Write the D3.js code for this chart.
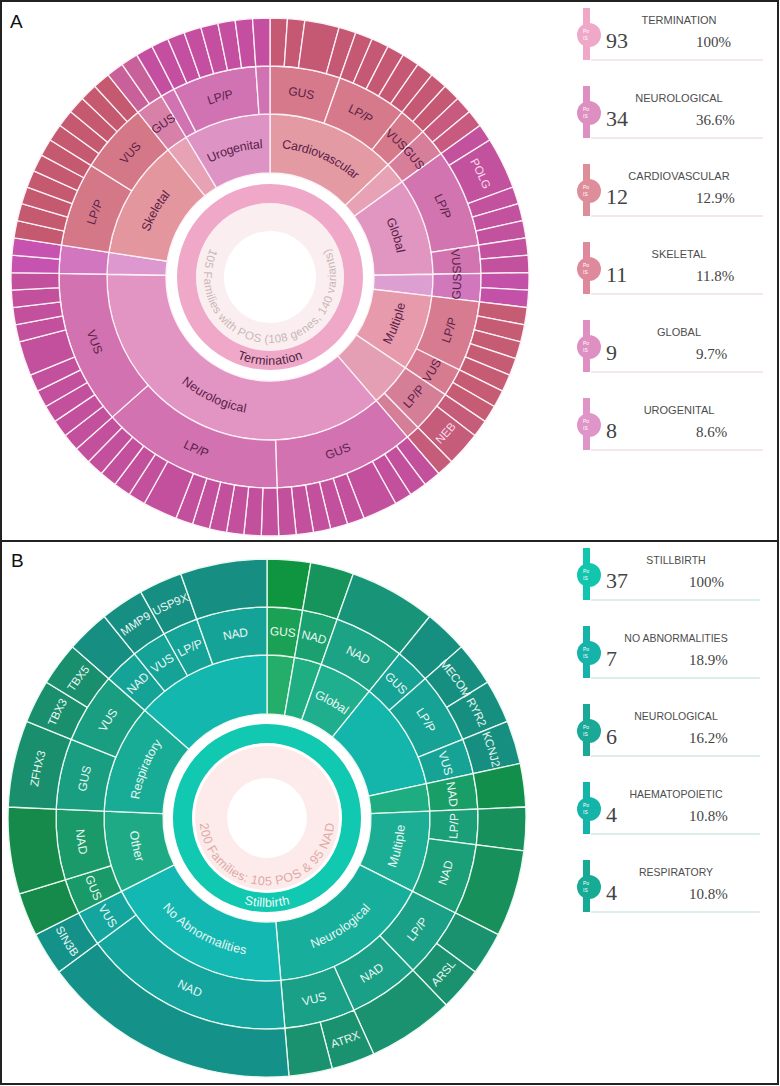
<!DOCTYPE html>
<html>
<head>
<meta charset="utf-8">
<script src="https://cdn.jsdelivr.net/npm/d3@7"></script>
<style>
  body { margin: 0; background: #fff; }
  svg { display: block; }
</style>
</head>
<body>
<div id="chart"></div>
<script>
// Panel A: terminations (level 2 = system, level 3 = class, level 4 = variants)
const termCategories = ["Cardiovascular", "", "Global", "", "Multiple", "", "Neurological", "", "Skeletal", "", "Urogenital"]
const termClasses = [
    [["GUS", [1, 1, 2, 1]], ["LP/P", [1, 1, 1, 1, 1]], ["VUS", [1, 1]]],
    [["GUS", [1, 1]]],
    [["LP/P", [1, 3, 1, 1, 1]], ["VUS", [1, 1]]],
    [["GUS", [1, 1]]],
    [["LP/P", [1, 1, 1, 1, 1]], ["VUS", [1, 1]]],
    [["LP/P", [1, 2]], ["", [1]]],
    [["GUS", [1, 1, 1, 2, 1, 1, 1, 1, 1]], ["LP/P", [1, 1, 1, 1, 1, 1, 2, 1, 1, 1, 1, 1]], ["VUS", [1, 1, 1, 1, 1, 2, 1, 1, 1, 1]]],
    [["", [1, 1]]],
    [["LP/P", [1, 1, 1, 1, 1, 1]], ["VUS", [1, 1, 1, 1, 1]]],
    [["GUS", [1, 1]]],
    [["", [1]], ["LP/P", [1, 1, 1, 1, 1, 1]], ["", [1]]]
]
// [category, class, leaf, gene]
const termGenes = [[2, 0, 1, "POLG"], [5, 0, 1, "NEB"]]
const termRoot = "Termination"
const termCentre = "105 Families with POS (108 genes, 140 variants)"

const termLegendNames = ["TERMINATION", "NEUROLOGICAL", "CARDIOVASCULAR", "SKELETAL", "GLOBAL", "UROGENITAL"]
const termLegendCounts = [93, 34, 12, 11, 9, 8]
const termLegendPct = ["100%", "36.6%", "12.9%", "11.8%", "9.7%", "8.6%"]

// Panel B: stillbirths
const stillCategories = ["", "", "Global", "", "", "Multiple", "Neurological", "No Abnormalities", "Other", "Respiratory", ""]
const stillClasses = [
    [["GUS", [1]]],
    [["NAD", [1]]],
    [["NAD", [2]]],
    [["GUS", [1]], ["LP/P", [1, 1]], ["VUS", [1]]],
    [["NAD", [1]]],
    [["LP/P", [1]], ["NAD", [2]]],
    [["LP/P", [1, 1]], ["NAD", [2]], ["VUS", [1, 1]]],
    [["NAD", [6]], ["VUS", [1]]],
    [["GUS", [1]], ["NAD", [2]]],
    [["GUS", [2]], ["VUS", [1, 1]]],
    [["NAD", [1]], ["VUS", [1]], ["LP/P", [1]], ["NAD", [2]]]
]
const stillGenes = [
    [3, 1, 0, "MECOM"], [3, 1, 1, "RYR2"], [3, 2, 0, "KCNJ2"], [6, 0, 1, "ARSL"], [6, 2, 0, "ATRX"],
    [7, 1, 0, "SIN3B"], [9, 0, 0, "ZFHX3"], [9, 1, 0, "TBX3"], [9, 1, 1, "TBX5"], [10, 1, 0, "MMP9"], [10, 2, 0, "USP9X"]
]
const stillRoot = "Stillbirth"
const stillCentre = "200 Families: 105 POS & 95 NAD"

const stillLegendNames = ["STILLBIRTH", "NO ABNORMALITIES", "NEUROLOGICAL", "HAEMATOPOIETIC", "RESPIRATORY"]
const stillLegendCounts = [37, 7, 6, 4, 4]
const stillLegendPct = ["100%", "18.9%", "16.2%", "10.8%", "10.8%"]

// Colours: [level 2, level 4] per category, level 3 sits between
const termPalette = [
    ["#e49aa3", "#c55873"], ["#e7a2b6", "#c75a7e"], ["#e195c1", "#c3529e"], ["#dd9ed2", "#c451a8"],
    ["#e69aab", "#c65b74"], ["#e59fb4", "#c55c7a"], ["#e294c3", "#c2509c"], ["#de98d0", "#c653b0"],
    ["#e4969f", "#c45970"], ["#e8a2b5", "#c8609a"], ["#dd94c5", "#c44fa0"]
]
const stillPalette = [
    ["#25ad6a", "#0f9440"], ["#1eae82", "#17945c"], ["#1faf8f", "#189478"], ["#14b6ab", "#178f80"],
    ["#1dad80", "#138f4c"], ["#1cae95", "#18905c"], ["#18ae9c", "#1a9270"], ["#13b8b3", "#14928a"],
    ["#1faa86", "#158a4a"], ["#18ac96", "#198f6e"], ["#13b7ae", "#168e82"]
]

const width = 780
const height = 1086
const sans = "'Liberation Sans', Arial, sans-serif"
const serif = "'Liberation Serif', 'Times New Roman', serif"

// Ring radii per depth
const radii = [null, [104, 163], [163, 211], [211, 259]]

const svg = d3.select("#chart").append("svg")
    .attr("width", width)
    .attr("height", height)

// Frame
svg.append("rect")
    .attr("x", 1).attr("y", 1)
    .attr("width", width - 3).attr("height", height - 3)
    .attr("fill", "none").attr("stroke", "#222").attr("stroke-width", 2)
svg.append("line")
    .attr("x1", 1).attr("x2", width - 2)
    .attr("y1", 541).attr("y2", 541)
    .attr("stroke", "#222").attr("stroke-width", 2)

svg.append("text").attr("x", 10).attr("y", 28).text("A")
    .style("font-family", sans).style("font-size", "19px").attr("fill", "#111")
svg.append("text").attr("x", 11).attr("y", 567).text("B")
    .style("font-family", sans).style("font-size", "19px").attr("fill", "#111")

let pathId = 0

// Arc used as a text path, centred on an angle, flipped on the lower half
function textArc(mid, r, span) {
    const flip = mid > Math.PI / 2 && mid < 3 * Math.PI / 2
    const a0 = flip ? mid + span : mid - span
    const a1 = flip ? mid - span : mid + span
    const large = 2 * span > Math.PI ? 1 : 0
    return `M${r * Math.sin(a0)},${-r * Math.cos(a0)}A${r},${r} 0 ${large} ${flip ? 0 : 1} ${r * Math.sin(a1)},${-r * Math.cos(a1)}`
}

function curvedText(g, mid, r, span, label, size, colour) {
    const id = "tp" + (pathId++)
    g.append("path").attr("id", id).attr("d", textArc(mid, r, span)).attr("fill", "none")
    g.append("text")
        .attr("dy", "0.35em")
        .style("font-family", sans)
        .style("font-size", size + "px")
        .attr("fill", colour)
        .append("textPath")
        .attr("href", "#" + id)
        .attr("startOffset", "50%")
        .attr("text-anchor", "middle")
        .text(label)
}

function drawSunburst(opts) {
    const {cx, cy, categories, classes, genes, palette, rootName, centreText} = opts

    // Build hierarchy from the arrays
    const geneLabel = (i, j, k) => {
        const g = genes.find(d => d[0] === i && d[1] === j && d[2] === k)
        return g ? g[3] : ""
    }
    const tree = {
        name: rootName,
        children: categories.map((c, i) => ({
            name: c, ci: i,
            children: classes[i].map(([cl, leaves], j) => ({
                name: cl, ci: i,
                children: leaves.map((v, k) => ({name: geneLabel(i, j, k), ci: i, value: v}))
            }))
        }))
    }
    const root = d3.hierarchy(tree).sum(d => d.value || 0)
    d3.partition().size([2 * Math.PI, 1])(root)

    const g = svg.append("g").attr("transform", `translate(${cx},${cy})`)

    // Centre rings
    g.append("path")
        .attr("d", d3.arc()({innerRadius: opts.paleIn, outerRadius: opts.paleOut, startAngle: 0, endAngle: 2 * Math.PI}))
        .attr("fill", opts.paleColour)
    g.append("path")
        .attr("d", d3.arc()({innerRadius: opts.rootIn, outerRadius: opts.rootOut, startAngle: 0, endAngle: 2 * Math.PI}))
        .attr("fill", opts.rootColour)

    curvedText(g, Math.PI, opts.centreR, opts.centreSpan, centreText, opts.centreSize, opts.centreColour)
    curvedText(g, Math.PI, (opts.rootIn + opts.rootOut) / 2, 1.2, rootName, 12.5, opts.rootLabel)

    // Segments
    const arc = d3.arc()
        .startAngle(d => d.x0)
        .endAngle(d => d.x1)
        .innerRadius(d => radii[d.depth][0])
        .outerRadius(d => radii[d.depth][1])

    const fill = d => d3.interpolateRgb(palette[d.data.ci][0], palette[d.data.ci][1])((d.depth - 1) / 2)

    const nodes = root.descendants().filter(d => d.depth > 0)
    g.selectAll("path.seg")
        .data(nodes)
        .join("path")
        .attr("class", "seg")
        .attr("d", arc)
        .attr("fill", fill)
        .attr("stroke", opts.stroke)
        .attr("stroke-width", 1.3)

    // Labels
    const sizes = [null, 12.5, 12, 11.5]
    nodes.filter(d => d.data.name).forEach(d => {
        const r = (radii[d.depth][0] + radii[d.depth][1]) / 2
        const colour = d.depth === 3 ? opts.geneLabel : opts.label
        curvedText(g, (d.x0 + d.x1) / 2, r, 1.2, d.data.name, sizes[d.depth], colour)
    })
}

function drawLegend(opts) {
    const {names, counts, pcts, colours, top} = opts
    names.forEach((name, i) => {
        const y = top + i * 78
        const g = svg.append("g")
        g.append("rect").attr("x", 583).attr("y", y).attr("width", 7).attr("height", 52).attr("fill", colours[i])
        g.append("circle").attr("cx", 589).attr("cy", y + 27).attr("r", 12).attr("fill", colours[i])
        g.append("text").attr("x", 583).attr("y", y + 25).text("Po")
            .style("font-family", sans).style("font-size", "5px").attr("fill", "#fff")
        g.append("text").attr("x", 583).attr("y", y + 32).text("IS")
            .style("font-family", sans).style("font-size", "5px").attr("fill", "#fff")
        g.append("text").attr("x", opts.titleX).attr("y", y + 16).attr("text-anchor", "middle").text(name)
            .style("font-family", sans).style("font-size", opts.titleSize + "px").attr("fill", "#4d4d4d")
        g.append("text").attr("x", 606).attr("y", y + 40).text(counts[i])
            .style("font-family", serif).style("font-size", "22px").attr("fill", "#444")
        g.append("text").attr("x", opts.pctX).attr("y", y + 39).text(pcts[i])
            .style("font-family", serif).style("font-size", "15px").attr("fill", "#444")
        g.append("line").attr("x1", 591).attr("x2", opts.lineEnd).attr("y1", y + 52).attr("y2", y + 52)
            .attr("stroke", opts.lineColour).attr("stroke-width", 1)
    })
}

drawSunburst({
    cx: 270, cy: 277,
    categories: termCategories, classes: termClasses, genes: termGenes,
    palette: termPalette, rootName: termRoot, centreText: termCentre,
    paleIn: 46, paleOut: 74, paleColour: "#fbeef0",
    rootIn: 74, rootOut: 93, rootColour: "#f0a8c8",
    centreR: 62, centreSpan: 2.6, centreSize: 11.5, centreColour: "#c9b6b6",
    rootLabel: "#4a2340", label: "#5a2148", geneLabel: "#f8dcec",
    stroke: "#fdf0f6"
})

drawSunburst({
    cx: 267, cy: 818,
    categories: stillCategories, classes: stillClasses, genes: stillGenes,
    palette: stillPalette, rootName: stillRoot, centreText: stillCentre,
    paleIn: 40, paleOut: 72, paleColour: "#fcebea",
    rootIn: 75, rootOut: 94, rootColour: "#11c8b0",
    centreR: 63, centreSpan: 2.4, centreSize: 12.5, centreColour: "#dfa9a8",
    rootLabel: "#f2fbf8", label: "#eaf7f1", geneLabel: "#eaf7f1",
    stroke: "#e9f8ef"
})

drawLegend({
    names: termLegendNames, counts: termLegendCounts, pcts: termLegendPct,
    colours: ["#f0a8c9", "#de8fc1", "#de8e9b", "#df8a9c", "#df90c2", "#e095c9"],
    top: 8, titleX: 679, pctX: 696, lineEnd: 763, lineColour: "#e6cfd8", titleSize: 11
})

drawLegend({
    names: stillLegendNames, counts: stillLegendCounts, pcts: stillLegendPct,
    colours: ["#12c6ae", "#15b3aa", "#19a996", "#15b4a9", "#17aa94"],
    top: 548, titleX: 676, pctX: 689, lineEnd: 760, lineColour: "#b9dcd8", titleSize: 10.5
})
</script>
</body>
</html>
